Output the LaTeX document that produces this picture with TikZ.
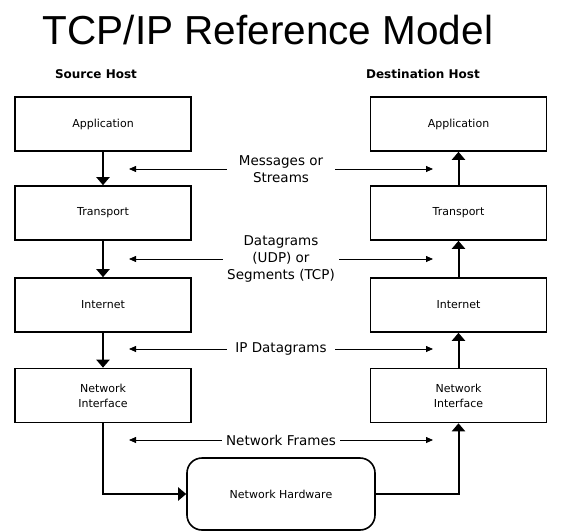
\documentclass[tikz,border=0pt]{standalone}
\usepackage{fontspec}
\setmainfont{DejaVu Sans}
\newfontfamily\titlefont{Liberation Sans}
\usetikzlibrary{arrows.meta,positioning}
\tikzset{
  layer/.style={draw=black, line width=1.6pt, minimum width=176pt, minimum height=54pt,
                align=center, inner sep=2pt, font=\fontsize{11}{15}\selectfont},
  hardware/.style={layer, minimum width=188pt, minimum height=72pt, rounded corners=15pt},
  host/.style={anchor=base, font=\bfseries\fontsize{12}{14}\selectfont},
  unit/.style={align=center, minimum width=108pt, inner sep=4pt,
               font=\fontsize{13.5}{17}\selectfont},
  stack/.style={-{Triangle[width=13pt,length=8pt]}, line width=2pt},
  flow/.style={-{Triangle[width=6pt,length=7pt]}, line width=0.8pt}
}
\begin{document}
\begin{tikzpicture}[x=1pt,y=-1pt]
  \useasboundingbox (0,0) rectangle (562,532);
  % headings
  \node[anchor=base, font=\titlefont\fontsize{40.5}{48}\selectfont] (title) at (268,45) {TCP/IP Reference Model};
  \node[host] (srchost) at (96,79) {Source Host};
  \node[host] (dsthost) at (423,79) {Destination Host};
  % source stack
  \node[layer] (srcapp) at (103,124)   {Application};
  \node[layer] (srctrn) at (103,213)   {Transport};
  \node[layer] (srcnet) at (103,305)   {Internet};
  \node[layer] (srcnif) at (103,395.5) {Network\\Interface};
  % destination stack
  \node[layer] (dstapp) at (458.5,124)   {Application};
  \node[layer] (dsttrn) at (458.5,213)   {Transport};
  \node[layer] (dstnet) at (458.5,305)   {Internet};
  \node[layer] (dstnif) at (458.5,395.5) {Network\\Interface};
  % physical link
  \node[hardware] (hw) at (281,494) {Network Hardware};
  % data units exchanged between peers
  \node[unit] (msg)  at (281,169) {Messages or\\Streams};
  \node[unit] (dgm)  at (281,259) {Datagrams\\(UDP) or\\Segments (TCP)};
  \node[unit] (ipd)  at (281,349) {IP Datagrams};
  \node[unit] (frm)  at (281,440) {Network Frames};
  \coordinate (tipL) at (129,0);
  \coordinate (tipR) at (433,0);
  % down the sender
  \draw[stack] (srcapp.south) -- (srctrn.north);
  \draw[stack] (srctrn.south) -- (srcnet.north);
  \draw[stack] (srcnet.south) -- (srcnif.north);
  \draw[stack] (srcnif.south) |- (hw.west);
  % up the receiver
  \draw[stack] (hw.east) -| (dstnif.south);
  \draw[stack] (dstnif.north) -- (dstnet.south);
  \draw[stack] (dstnet.north) -- (dsttrn.south);
  \draw[stack] (dsttrn.north) -- (dstapp.south);
  % peer arrows
  \foreach \u in {msg,dgm,ipd,frm}{
    \draw[flow] (\u.west) -- (\u.west -| tipL);
    \draw[flow] (\u.east) -- (\u.east -| tipR);
  }
\end{tikzpicture}
\end{document}
